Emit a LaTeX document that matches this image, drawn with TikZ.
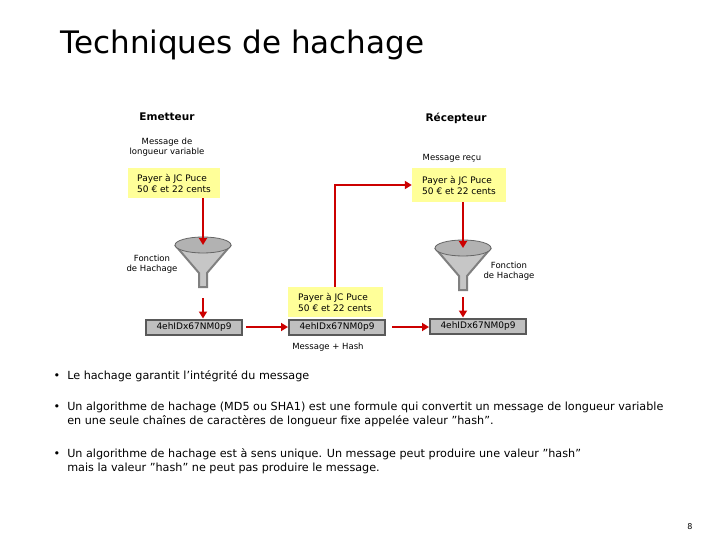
\documentclass[tikz,border=0pt]{standalone}
\usepackage{fontspec}
\setmainfont{DejaVu Sans}
\usetikzlibrary{arrows.meta}
\definecolor{yel}{RGB}{255,255,153}
\definecolor{arr}{RGB}{204,0,0}
\begin{document}
\begin{tikzpicture}[x=1pt,y=-1pt,
  ybox/.style={fill=yel,align=left,font=\fontsize{9}{11}\selectfont,inner sep=0pt},
  hbox/.style={draw=gray!70!black,line width=2pt,fill=gray!50,font=\fontsize{9}{10}\selectfont,minimum width=96pt,minimum height=15pt,inner sep=0pt},
  small/.style={font=\fontsize{8.5}{10}\selectfont,align=center},
  ra/.style={draw=arr,line width=2.6pt,-{Triangle[length=7pt,width=8pt]}},
  bul/.style={anchor=north west,align=left,font=\fontsize{11.2}{14}\selectfont}]
\useasboundingbox (0,0) rectangle (720,540);
\node[anchor=west,font=\fontsize{31}{34}\selectfont] (title) at (57,45) {Techniques de hachage};
\node[font=\bfseries\fontsize{10.5}{12}\selectfont] (em) at (167,117) {Emetteur};
\node[font=\bfseries\fontsize{10.5}{12}\selectfont] (rec) at (456,118) {Récepteur};
\node[small] (mlv) at (167,147) {Message de\\longueur variable};
\node[small] (mr) at (452,158) {Message reçu};
\node[ybox,minimum width=92pt,minimum height=30pt] (y1) at (174,183) {Payer à JC Puce\\50 € et 22 cents};
\node[ybox,minimum width=94pt,minimum height=34pt] (y3) at (459,185) {Payer à JC Puce\\50 € et 22 cents};
\node[ybox,minimum width=95pt,minimum height=30pt] (y2) at (335,302) {Payer à JC Puce\\50 € et 22 cents};
\node[hbox] (h1) at (194,327) {4ehIDx67NM0p9};
\node[hbox] (h2) at (337,327) {4ehIDx67NM0p9};
\node[hbox] (h3) at (478,326) {4ehIDx67NM0p9};
\node[small] (mh) at (328,347) {Message + Hash};
\node[small] (f1) at (152,264) {Fonction\\de Hachage};
\node[small] (f2) at (509,271) {Fonction\\de Hachage};
% funnels
\foreach \cx/\cy/\nm in {203/245/fa,463/248/fb}{
  \begin{scope}[shift={(\cx,\cy)}]
  \fill[gray!45] (-28,0) -- (-4,28) -- (-4,42) -- (4,42) -- (4,28) -- (28,0) -- cycle;
  \draw[gray,line width=2pt] (-28,0) -- (-4,28) -- (-4,42) -- (4,42) -- (4,28) -- (28,0);
  \fill[gray!60,draw=gray!80!black,line width=0.8pt] (0,0) ellipse (28pt and 8pt);
  \coordinate (\nm) at (0,0);
  \coordinate (\nm b) at (0,45);
  \end{scope}}
\draw[ra] (y1.south -| fa) -- (fa);
\draw[ra] (fab) ++(0,8) coordinate (fa2) (fa2) -- (h1.north -| fa);
\draw[ra] (y3.south -| fb) -- (fb);
\draw[ra] (fbb) ++(0,4) coordinate (fb2) (fb2) -- (h3.north -| fb);
\draw[ra] (h1.east) ++(3,0) coordinate (a1) (a1) -- (h2.west);
\draw[ra] (h2.east) ++(6,0) coordinate (a2) (a2) -- (a2 -| h3.west);
\draw[ra] (y2.north) -- (y2.north |- y3.west) -- (y3.west);
\node[bul] (b1) at (50,367) {•\ \ Le hachage garantit l'intégrité du message};
\node[bul] (b2) at (50,398) {•\ \ Un algorithme de hachage (MD5 ou SHA1) est une formule qui convertit un message de longueur variable\\\hphantom{•\ \ }en une seule chaînes de caractères de longueur fixe appelée valeur "hash".};
\node[bul] (b3) at (50,445) {•\ \ Un algorithme de hachage est à sens unique. Un message peut produire une valeur "hash"\\\hphantom{•\ \ }mais la valeur "hash" ne peut pas produire le message.};
\node[font=\fontsize{8}{9}\selectfont] (pg) at (690,527) {8};
\end{tikzpicture}
\end{document}
